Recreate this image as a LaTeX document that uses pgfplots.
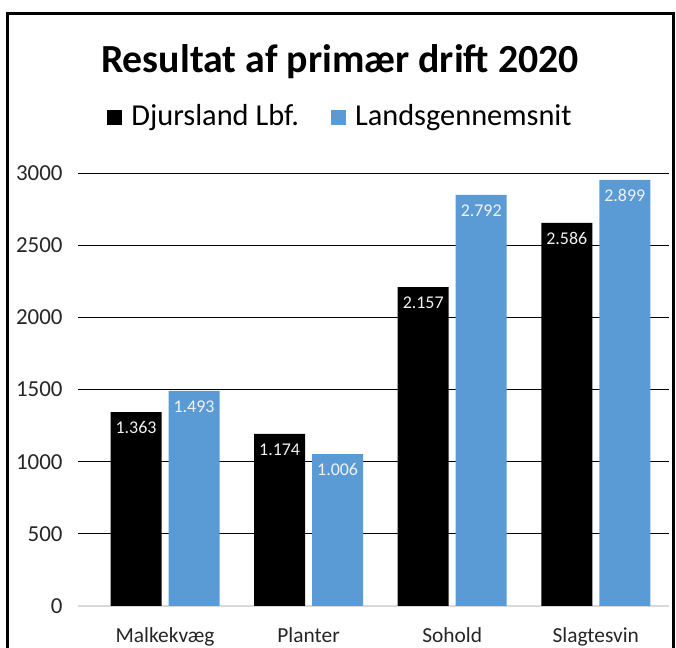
\documentclass[border=0pt]{standalone}
\usepackage{pgfplots}
\pgfplotsset{compat=1.18}
\usepackage{fontspec}
\setmainfont{Carlito}
\definecolor{lblue}{HTML}{5B9BD5}
\definecolor{lbltxt}{HTML}{F2F2F2}
\begin{document}
\begin{tikzpicture}[x=1bp,y=1bp]
\useasboundingbox (0,0) rectangle (676,648);
\draw[line width=3bp] (7,0) -- (7,634) -- (673,634) -- (673,0);
\node[font=\fontsize{40}{44}\selectfont\bfseries, anchor=base] at (340,575) {Resultat af primær drift 2020};
\begin{axis}[at={(78bp,42bp)}, anchor=south west, scale only axis,
  width=591bp, height=433bp,
  ymin=0, ymax=3000, xmin=-0.606, xmax=3.51,
  ybar=7bp, bar width=51bp,
  xtick={0,1,2,3}, xticklabels={Malkekvæg,Planter,Sohold,Slagtesvin},
  ytick={0,500,...,3000},
  ymajorgrids, grid style={black, line width=0.8bp},
  axis x line*=bottom, axis y line*=left,
  y axis line style={draw=none},
  x axis line style={draw=black!15, line width=2bp},
  major tick length=0pt,
  /pgf/number format/assume math mode=true,
  /pgf/number format/1000 sep={},
  yticklabel style={font=\fontsize{23}{26}\selectfont, text=black!85, anchor=east, xshift=-12bp},
  xticklabel style={font=\fontsize{21.5}{24}\selectfont, text=black!85, anchor=base, yshift=-37bp},
  nodes near coords, point meta=explicit symbolic,
  every node near coord/.append style={anchor=north, font=\fontsize{18}{20}\selectfont, text=lbltxt, yshift=-6bp},
  legend style={at={(0.4425,1.1316)}, anchor=center, draw=none, fill=none,
    legend columns=2, font=\fontsize{30.5}{34}\selectfont,
    nodes={inner xsep=0bp},
    /tikz/every odd column/.append style={column sep=9bp},
    /tikz/every even column/.append style={column sep=32bp}},
]
\addplot[fill=black, draw=none, legend image code/.code={\fill[black] (0bp,-9bp) rectangle (15bp,6bp);}] table[meta=label] {
x y label
0 1344 1.363
1 1192 1.174
2 2210 2.157
3 2654 2.586
};
\addlegendentry{Djursland Lbf.}
\addplot[fill=lblue, draw=none, legend image code/.code={\fill[lblue] (0bp,-9bp) rectangle (15bp,6bp);}] table[meta=label] {
x y label
0 1490 1.493
1 1053 1.006
2 2848 2.792
3 2952 2.899
};
\addlegendentry{Landsgennemsnit}
\end{axis}
\end{tikzpicture}
\end{document}
